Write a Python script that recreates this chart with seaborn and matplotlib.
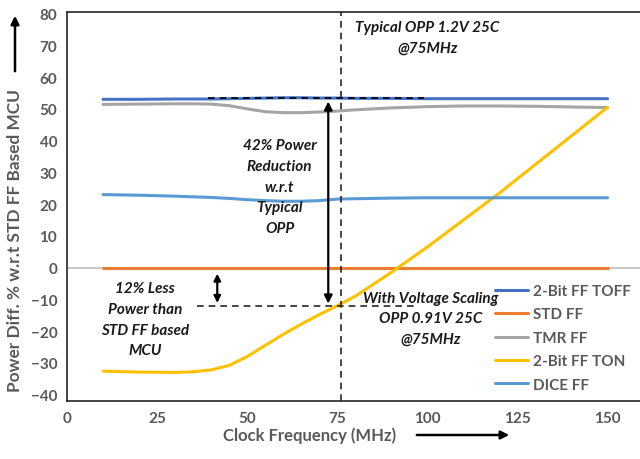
import matplotlib
matplotlib.use("Agg")
import matplotlib.pyplot as plt
import seaborn as sns
import pandas as pd

freq = [10, 20, 30, 35, 40, 45, 50, 55, 60, 65, 70, 75, 80, 90, 100, 110, 120, 130, 140, 150]
toff = [53.0, 53.0, 53.1, 53.1, 53.1, 53.2, 53.3, 53.4, 53.5, 53.5, 53.4, 53.4, 53.3, 53.3, 53.2, 53.2, 53.2, 53.2, 53.2, 53.2]
std = [0.0] * len(freq)
tmr = [51.4, 51.5, 51.6, 51.6, 51.5, 51.0, 50.0, 49.1, 48.8, 48.8, 49.0, 49.3, 49.7, 50.3, 50.7, 50.9, 50.9, 50.8, 50.6, 50.4]
ton = [-32.6, -32.9, -33.0, -32.8, -32.2, -30.8, -28.0, -24.5, -21.0, -17.8, -14.8, -12.0, -9.0, -1.5, 6.5, 15.0, 23.5, 32.5, 41.5, 50.5]
dice = [23.0, 22.8, 22.5, 22.3, 22.1, 21.8, 21.4, 21.1, 20.9, 20.9, 21.1, 21.6, 21.7, 21.9, 22.0, 22.0, 22.0, 22.0, 22.0, 22.0]

series_names = ["2-Bit FF TOFF", "STD FF", "TMR FF", "2-Bit FF TON", "DICE FF"]
series_vals = [toff, std, tmr, ton, dice]
colors = ["#4472C4", "#ED7D31", "#A5A5A5", "#FFC000", "#5B9BD5"]

rows = []
for name, vals in zip(series_names, series_vals):
    for f, v in zip(freq, vals):
        rows.append({"freq": f, "val": v, "series": name})
df = pd.DataFrame(rows)

sns.set_theme(style="white")
plt.rcParams["font.family"] = ["Lato", "DejaVu Sans"]

fig = plt.figure(figsize=(6.4, 4.6), dpi=100)
ax = fig.add_axes([67/640, 1-402/460, 1-67/640, (402-13)/460])

ax.axhline(0, color="#BFBFBF", lw=1.2, zorder=1)
sns.lineplot(data=df, x="freq", y="val", hue="series", hue_order=series_names,
             palette=colors, lw=2.2, ax=ax, zorder=3, sort=False)

ax.set_xlim(0, 159)
ax.set_ylim(-42, 80.5)
ax.set_xticks([0, 25, 50, 75, 100, 125, 150])
ax.set_yticks(list(range(-40, 81, 10)))
ax.tick_params(axis="both", labelsize=11, colors="#595959", length=0, pad=7)
for lab in ax.get_xticklabels() + ax.get_yticklabels():
    lab.set_fontweight("bold")
ax.set_xlabel("")
ax.set_ylabel("")
for s in ["left", "bottom", "top"]:
    ax.spines[s].set_color("#262626")
    ax.spines[s].set_linewidth(1.2)
ax.spines["right"].set_visible(False)

# vertical dashed line at OPP
ax.axvline(76, color="#262626", lw=1.2, ls=(0, (4, 3)), zorder=4)
# horizontal dashed reference lines
ax.plot([39, 99], [53.3, 53.3], color="black", lw=1.2, ls=(0, (4, 3)), zorder=5)
ax.plot([36, 97], [-12, -12], color="#262626", lw=1.2, ls=(0, (4, 3)), zorder=5)
# arrows
ax.annotate("", xy=(72.5, 53.2), xytext=(72.5, -12.2),
            arrowprops=dict(arrowstyle="<|-|>", color="black", lw=1.6, mutation_scale=12), zorder=6)
ax.annotate("", xy=(41.7, -1), xytext=(41.7, -12),
            arrowprops=dict(arrowstyle="<|-|>", color="black", lw=1.6, mutation_scale=10), zorder=6)

tkw = dict(fontsize=11, fontweight="bold", fontstyle="italic", color="#1a1a1a",
           ha="center", va="center", linespacing=1.6)
ax.text(100, 72.5, "Typical OPP 1.2V 25C\n@75MHz", **tkw)
ax.text(59, 25.5, "42% Power\nReduction\nw.r.t\nTypical\nOPP", **tkw)
ax.text(21.7, -16.3, "12% Less\nPower than\nSTD FF based\nMCU", **tkw)
ax.text(101, -16.0, "With Voltage Scaling\nOPP 0.91V 25C\n@75MHz", **tkw)

leg = ax.legend(loc="lower right", bbox_to_anchor=(1.0, 0.0), frameon=False,
                fontsize=11, handlelength=2.2, handletextpad=0.3, labelspacing=0.62,
                borderaxespad=0.2)
for t in leg.get_texts():
    t.set_color("#595959")
    t.set_fontweight("bold")
for h in leg.get_lines():
    h.set_linewidth(2.2)

# axis titles with arrows
fig.text(15/640, 1-240/460, "Power Diff. % w.r.t STD FF Based MCU", rotation=90,
         ha="center", va="center", fontsize=12.4, fontweight="bold", color="#595959")
fig.text(310/640, 1-436/460, "Clock Frequency (MHz)", ha="center", va="center",
         fontsize=12, fontweight="bold", color="#595959")
fig.patches.append(matplotlib.patches.FancyArrowPatch(
    (15/640, 1-75/460), (15/640, 1-14/460), transform=fig.transFigure,
    arrowstyle="-|>", mutation_scale=12, lw=1.8, color="black"))
fig.patches.append(matplotlib.patches.FancyArrowPatch(
    (414/640, 1-436/460), (512/640, 1-436/460), transform=fig.transFigure,
    arrowstyle="-|>", mutation_scale=12, lw=1.8, color="black"))

fig.savefig("out.png", dpi=100)
